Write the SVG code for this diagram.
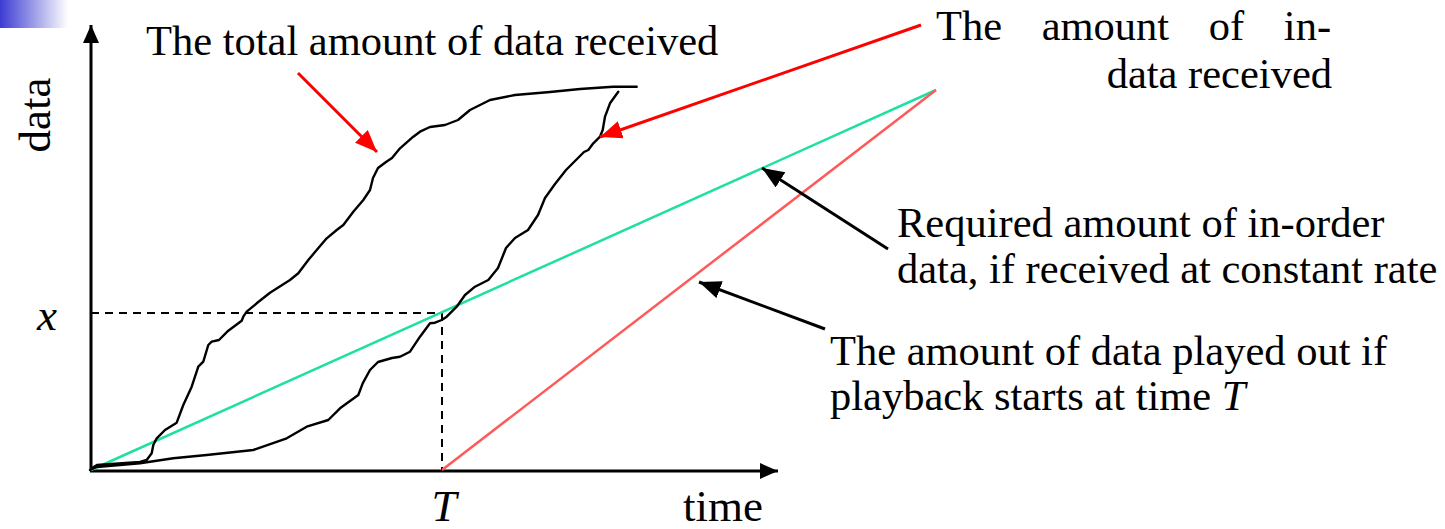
<svg xmlns="http://www.w3.org/2000/svg" width="1445" height="529" viewBox="0 0 1445 529">
  <style>
    .lbl { font-family: "Liberation Serif", "Times New Roman", serif; font-size: 42.5px; fill: #000; }
    .ax { font-size: 45px; }
    .it { font-style: italic; }
    .axis { stroke: #000; stroke-width: 3; fill: none; }
    .curve { stroke: #000; stroke-width: 2.4; fill: none; stroke-linejoin: round; stroke-linecap: round; }
    .dash { stroke: #000; stroke-width: 2; stroke-dasharray: 8 6; fill: none; }
    .ptr-red { stroke: #ff0000; stroke-width: 3; fill: none; }
    .ptr-black { stroke: #000; stroke-width: 3; fill: none; }
  </style>
  <defs>
    <linearGradient id="corner" x1="0" y1="0" x2="1" y2="0">
      <stop offset="0" stop-color="#3c3cd2"/>
      <stop offset="1" stop-color="#ffffff"/>
    </linearGradient>
    <marker id="axhead" markerUnits="userSpaceOnUse" markerWidth="20" markerHeight="18" refX="18" refY="8" orient="auto">
      <path d="M0,0 L18,8 L0,16 Z" fill="#000"/>
    </marker>
    <marker id="redhead" markerUnits="userSpaceOnUse" markerWidth="24" markerHeight="20" refX="22" refY="9" orient="auto">
      <path d="M0,0 L22,9 L0,18 Z" fill="#ff0000"/>
    </marker>
    <marker id="blackhead" markerUnits="userSpaceOnUse" markerWidth="24" markerHeight="20" refX="22" refY="9" orient="auto">
      <path d="M0,0 L22,9 L0,18 Z" fill="#000"/>
    </marker>
  </defs>

  <rect x="0" y="0" width="68" height="28" fill="url(#corner)"/>

  <!-- axes -->
  <g id="axes">
    <line class="axis" x1="91" y1="471" x2="91" y2="25" marker-end="url(#axhead)"/>
    <line class="axis" x1="90" y1="471" x2="778" y2="471" marker-end="url(#axhead)"/>
  </g>

  <!-- guide lines for x and T -->
  <g id="guides">
    <line class="dash" x1="91" y1="313" x2="442" y2="313"/>
    <line class="dash" x1="442" y1="313" x2="442" y2="470"/>
  </g>

  <!-- constant-rate line and playout line -->
  <g id="rate-line">
    <line x1="91" y1="470" x2="936" y2="90" stroke="#1ee0a0" stroke-width="2.5"/>
  </g>
  <g id="playout-line">
    <line x1="442" y1="470" x2="936" y2="90" stroke="#ff5a5a" stroke-width="2.5"/>
  </g>

  <!-- total data received -->
  <g id="total-curve">
    <path class="curve" d="M92,468 L97,465 L140,462 L146.7,460 L151.7,453.3 L153.3,445 L156.7,438.3 L165,430 L176.7,422.7 L183.3,405 L191.7,386.7 L198.3,366.7 L203.3,361.7 L208.3,345 L211.7,341.7 L219,340 L228.3,330.7 L241.7,320.7 L243.3,316.7 L246.7,311.7 L256.7,303.3 L270,292.7 L290,280 L298.3,273.3 L308.3,260 L316.7,250 L326.7,238.3 L336.7,230 L343.3,225 L353.3,211.7 L363.3,200 L370,190 L373,178 L378,168 L386,162 L392,158 L400,148.3 L413.3,136.7 L420,131.7 L430,127 L445,125 L458,120 L470,110 L490,100 L515,95 L550,92 L580,89 L613,86.7 L636.7,86.7"/>
  </g>

  <!-- in-order data received -->
  <g id="inorder-curve">
    <path class="curve" d="M90,470 L96.7,467 L140,463.3 L173.3,458.3 L206.7,455 L253.3,450 L286.7,438.3 L306.7,426.7 L328.3,420 L340,408.3 L358.3,395 L362.7,383.3 L370,370 L378,362 L392,358 L400,356.7 L410,351.7 L420,336.7 L430,323.3 L435,322.7 L441.7,320 L446.7,316.7 L456.7,306.7 L465,295 L475,286.7 L488.3,280 L498,268 L506,248 L515,238 L528,230 L538,215 L545,198 L555,184 L566,170 L576,160 L584,152 L588.3,150 L593.3,143.3 L600,136.7 L602.7,130 L605,116.7 L610,103.3 L618.3,91.7"/>
  </g>

  <!-- pointers -->
  <g id="connectors">
    <line class="ptr-red" x1="298" y1="73" x2="377" y2="152" marker-end="url(#redhead)"/>
    <line class="ptr-red" x1="921" y1="25" x2="600" y2="137" marker-end="url(#redhead)"/>
    <line class="ptr-black" x1="888" y1="249" x2="762" y2="168" marker-end="url(#blackhead)"/>
    <line class="ptr-black" x1="825" y1="329" x2="699" y2="282" marker-end="url(#blackhead)"/>
  </g>

  <!-- labels -->
  <g id="label-axis">
    <text class="lbl ax" transform="translate(50,115) rotate(-90)" text-anchor="middle">data</text>
    <text class="lbl ax" x="683" y="521">time</text>
    <text class="lbl ax it" x="37" y="330">x</text>
    <text class="lbl ax it" x="444" y="521" text-anchor="middle">T</text>
  </g>
  <g id="label-total">
    <text class="lbl" x="146" y="55">The total amount of data received</text>
  </g>
  <g id="label-inorder">
    <text class="lbl" x="936" y="40" word-spacing="29">The amount of in-</text>
    <text class="lbl" x="1332" y="88" text-anchor="end">data received</text>
  </g>
  <g id="label-rate">
    <text class="lbl" x="897" y="237">Required amount of in-order</text>
    <text class="lbl" x="897" y="283">data, if received at constant rate</text>
  </g>
  <g id="label-playout">
    <text class="lbl" x="830" y="365">The amount of data played out if</text>
    <text class="lbl" x="830" y="410">playback starts at time <tspan class="it">T</tspan></text>
  </g>
</svg>
